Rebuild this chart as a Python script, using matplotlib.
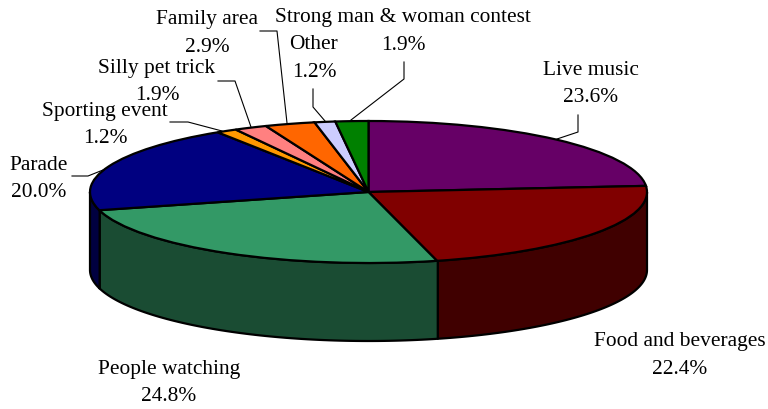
import numpy as np
import matplotlib
matplotlib.use("Agg")
import matplotlib.pyplot as plt

WIDTH, HEIGHT = 768, 409
CENTER_X, CENTER_Y = 368.5, 192
RADIUS_X, RADIUS_Y = 278.5, 71
DEPTH = 78 / RADIUS_Y
TEXT_SHIFT = 2.5

names = ["Live music", "Food and beverages", "People watching", "Parade",
         "Sporting event", "Silly pet trick", "Family area", "Other",
         "Strong man & woman contest"]
shares = [23.6, 22.4, 24.8, 20.0, 1.2, 1.9, 2.9, 1.2, 1.9]
top_colors = ["#660066", "#800000", "#339966", "#000080", "#FF9900",
              "#FF8080", "#FF6600", "#CCCCFF", "#008000"]
side_colors = ["#330033", "#400000", "#1A4C33", "#000040", "#804C00",
               "#804040", "#803300", "#666680", "#004000"]

# label line centres and leader lines, in reference pixels
name_pos = [(591, 68), (680, 339), (169, 367), (39, 163), (105, 109),
            (157, 66), (207, 17), (314, 42), (403, 15)]
share_pos = [(591, 95), (680, 367), (169, 394), (39, 190), (105, 136),
             (157, 93), (207, 45), (314, 70), (403, 43)]
leaders = [[(578, 115), (578, 132), (557, 139)],
           None,
           None,
           [(72, 176), (88, 176), (103, 170)],
           [(170, 122), (188, 122), (222, 131)],
           [(218, 81), (235, 81), (251, 127)],
           [(260, 31), (277, 31), (287, 123)],
           [(313, 89), (313, 107), (325, 121)],
           [(404, 62), (404, 79), (351, 120)]]


def to_data(px, py):
    return (px - CENTER_X) / RADIUS_X, (CENTER_Y - py) / RADIUS_Y


def put_text(pos, label):
    x, y = to_data(pos[0], pos[1] + TEXT_SHIFT)
    ax.text(x, y, label, ha="center", va="center", family="Liberation Serif",
            fontsize=15.4, color="black", zorder=5)


fig = plt.figure(figsize=(WIDTH / 100, HEIGHT / 100), dpi=100)
ax = fig.add_axes([0, 0, 1, 1])

ax.pie(shares, colors=top_colors, startangle=90, counterclock=False,
       wedgeprops={"edgecolor": "black", "linewidth": 1.6, "zorder": 3})
ax.set_aspect("auto")
x0, y0 = to_data(0, HEIGHT)
x1, y1 = to_data(WIDTH, 0)
ax.set_xlim(x0, x1)
ax.set_ylim(y0, y1)

# side walls: only the front half of the rim shows
edges = np.cumsum([0] + shares) * 3.6
for i, color in enumerate(side_colors):
    start, end = max(edges[i], 90), min(edges[i + 1], 270)
    if end <= start:
        continue
    t = np.radians(np.linspace(start, end, 80))
    xs = np.sin(t)
    ys = np.cos(t)
    ax.fill(np.r_[xs, xs[::-1]], np.r_[ys, ys[::-1] - DEPTH], facecolor=color,
            edgecolor="black", linewidth=1.6, joinstyle="round", zorder=2)

for line in leaders:
    if line is None:
        continue
    xs, ys = zip(*[to_data(*p) for p in line])
    ax.plot(xs, ys, color="black", linewidth=0.8, zorder=4)

for name, share, n_pos, s_pos in zip(names, shares, name_pos, share_pos):
    put_text(n_pos, name)
    put_text(s_pos, f"{share:.1f}%")

fig.savefig("out.png", dpi=100, facecolor="white")
plt.close(fig)
